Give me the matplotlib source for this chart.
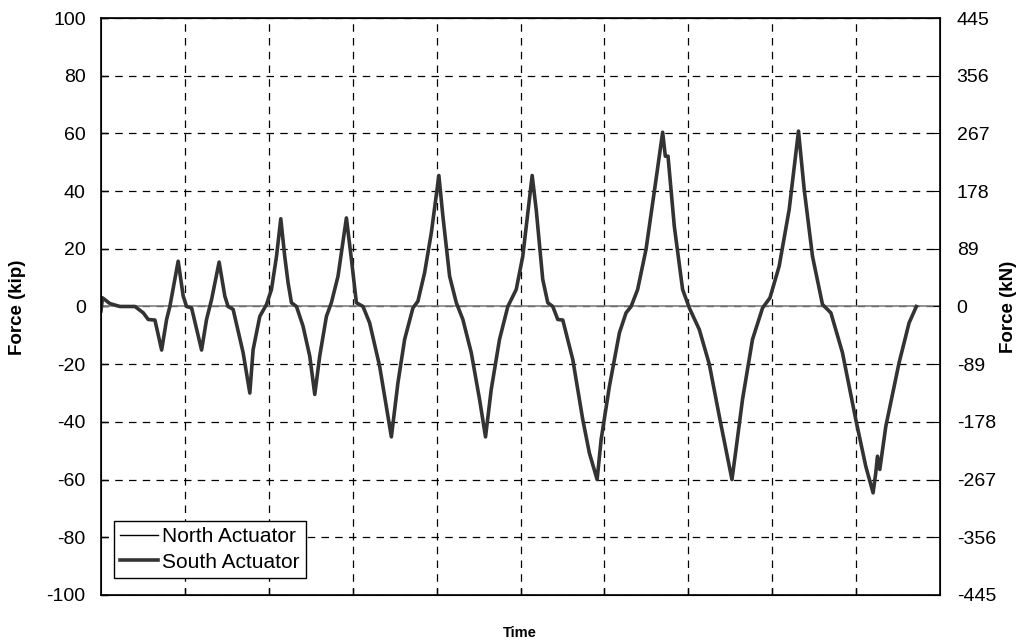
import numpy as np
import matplotlib
matplotlib.use("Agg")
import matplotlib.pyplot as plt

plt.rcParams['font.family'] = ['Liberation Sans', 'DejaVu Sans']

# time (grid units, 10 divisions) and force in kip
time = [0.000, 0.018, 0.107, 0.226, 0.405, 0.504, 0.563, 0.643, 0.723, 0.782,
        0.821, 0.920, 0.980, 1.020, 1.080, 1.199, 1.258, 1.318, 1.408, 1.476,
        1.515, 1.575, 1.694, 1.774, 1.813, 1.893, 1.973, 2.032, 2.092, 2.143,
        2.190, 2.230, 2.270, 2.330, 2.408, 2.488, 2.548, 2.607, 2.687, 2.746,
        2.825, 2.925, 2.985, 3.044, 3.123, 3.202, 3.321, 3.461, 3.539, 3.619,
        3.718, 3.777, 3.857, 3.937, 4.027, 4.075, 4.155, 4.235, 4.313, 4.413,
        4.512, 4.583, 4.651, 4.750, 4.849, 4.949, 5.027, 5.139, 5.187, 5.265,
        5.325, 5.385, 5.444, 5.504, 5.623, 5.742, 5.821, 5.913, 5.961, 6.060,
        6.179, 6.258, 6.318, 6.396, 6.496, 6.615, 6.694, 6.726, 6.758, 6.833,
        6.932, 7.012, 7.131, 7.250, 7.369, 7.520, 7.568, 7.646, 7.765, 7.885,
        7.973, 8.083, 8.202, 8.313, 8.381, 8.480, 8.599, 8.699, 8.837, 8.996,
        9.115, 9.202, 9.234, 9.254, 9.282, 9.354, 9.512, 9.631, 9.718]

south = [-1.5, 3.0, 1.0, 0.0, 0.0, -2.2, -4.5, -4.7, -15.1, -4.5,
         0.0, 15.7, 3.6, 0.0, -0.5, -15.1, -4.5, 2.4, 15.4, 3.6,
         0.0, -1.0, -16.0, -30.0, -15.0, -3.4, 0.7, 5.9, 17.4, 30.4,
         17.4, 8.2, 1.3, 0.0, -6.8, -17.2, -30.5, -17.2, -3.4, 1.3,
         10.5, 30.7, 16.3, 1.3, 0.0, -5.7, -20.7, -45.2, -26.5, -11.4,
         -0.5, 1.8, 11.7, 25.5, 45.4, 31.3, 10.5, 1.3, -4.5, -16.0,
         -32.2, -45.2, -28.8, -11.4, 0.0, 5.9, 17.4, 45.4, 33.6, 9.4,
         1.3, 0.0, -4.5, -4.7, -18.4, -39.2, -50.8, -60.0, -46.1, -27.6,
         -9.1, -2.2, 0.0, 5.9, 19.8, 44.0, 60.4, 52.1, 52.1, 27.8,
         5.9, -0.5, -8.0, -20.0, -38.0, -60.0, -49.6, -32.2, -11.4, -0.5,
         3.0, 14.0, 33.6, 60.8, 40.6, 17.4, 0.7, -2.2, -16.0, -39.2,
         -55.4, -64.6, -57.7, -51.9, -56.5, -41.5, -19.5, -5.7, 0.0]

# north actuator follows the south one (hidden underneath)
north = list(south)

kip_ticks = [-100, -80, -60, -40, -20, 0, 20, 40, 60, 80, 100]
kn_labels = ['-445', '-356', '-267', '-178', '-89', '0', '89', '178', '267', '356', '445']

fig = plt.figure(figsize=(10.21, 6.43), dpi=100)
ax = fig.add_axes([0.0989, 0.0747, 0.8218, 0.8973])

ax.plot(time, north, color='black', lw=1.0, label='North Actuator', zorder=3)
ax.plot(time, south, color='#333333', lw=2.6, label='South Actuator', zorder=4)
ax.axhline(0, color='#808080', lw=1.2, zorder=2)

ax.set_xlim(0, 10)
ax.set_ylim(-100, 100)
ax.set_xticks(np.arange(1, 10))
ax.set_xticklabels([])
ax.set_yticks(kip_ticks)
ax.set_yticklabels([str(v) for v in kip_ticks])
ax.tick_params(axis='both', direction='in', length=5, width=1, labelsize=14)
ax.tick_params(axis='y', pad=11)
ax.grid(True, color='black', ls=(0, (6, 5)), lw=0.9)
for s in ax.spines.values():
    s.set_linewidth(1.2)

ax2 = ax.twinx()
ax2.set_ylim(-100, 100)
ax2.set_yticks(kip_ticks)
ax2.set_yticklabels(kn_labels)
ax2.tick_params(axis='y', direction='in', length=5, labelsize=14, pad=12)

# axis titles
fig.text(17 / 1021, 1 - 307 / 643, 'Force (kip)', rotation=90, ha='center', va='center',
         fontsize=13.5, fontweight='bold')
fig.text(1008 / 1021, 1 - 307 / 643, 'Force (kN)', rotation=90, ha='center', va='center',
         fontsize=13.5, fontweight='bold')
fig.text(520 / 1021, 1 - 633 / 643, 'Time', ha='center', va='center',
         fontsize=10.5, fontweight='bold')

leg = ax.legend(loc='lower left', bbox_to_anchor=(0.0155, 0.0295), borderaxespad=0,
                fontsize=15, handlelength=1.8, handletextpad=0.2, fancybox=False,
                framealpha=1, edgecolor='black', borderpad=0.3, labelspacing=0.3)
leg.get_frame().set_linewidth(1.0)

fig.savefig('out.png', dpi=100)
